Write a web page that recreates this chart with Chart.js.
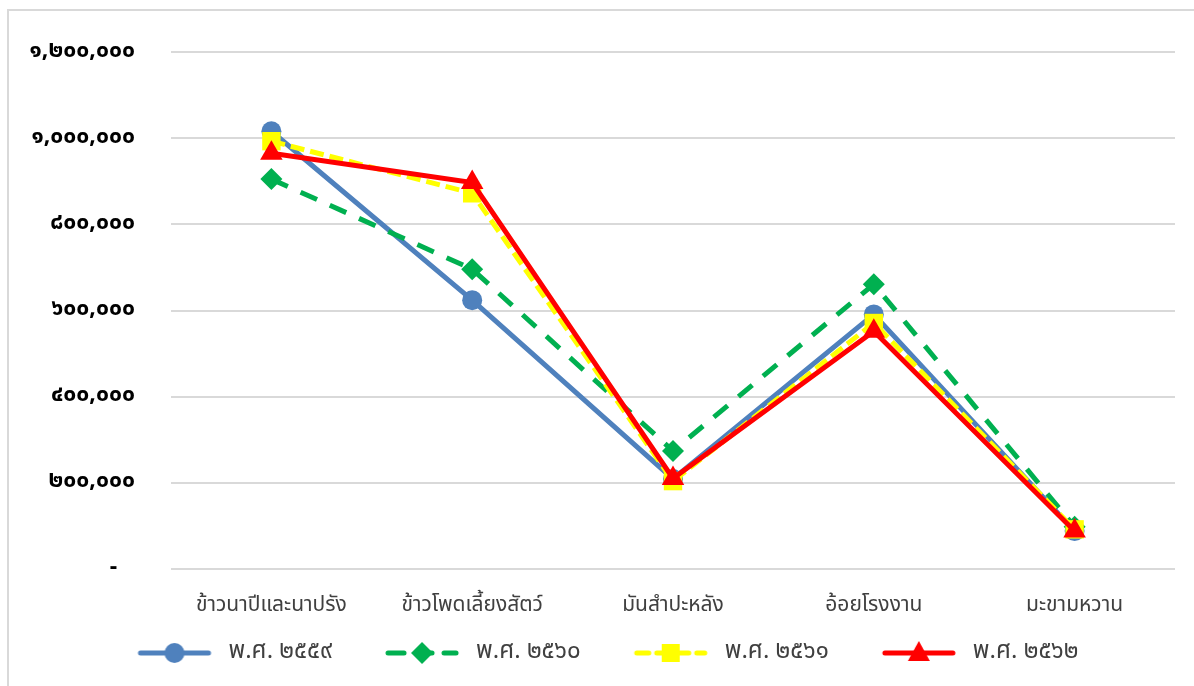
<!DOCTYPE html>
<html>
<head>
<meta charset="utf-8">
<script src="https://cdn.jsdelivr.net/npm/chart.js@4/dist/chart.umd.min.js"></script>
<style>
  html, body { margin: 0; padding: 0; background: #fff; }
  #wrap { position: relative; width: 1194px; height: 686px; overflow: hidden; }
  #frame { position: absolute; left: 7px; top: 9px; width: 1300px; height: 800px;
           border-left: 2px solid #d9d9d9; border-top: 2px solid #d9d9d9; }
  #myChart { position: absolute; left: 0; top: 0; }
</style>
</head>
<body>
<div id="wrap">
  <div id="frame"></div>
  <canvas id="myChart" width="1194" height="686"></canvas>
</div>
<script>
var categories = ['ข้าวนาปีและนาปรัง', 'ข้าวโพดเลี้ยงสัตว์', 'มันสำปะหลัง', 'อ้อยโรงงาน', 'มะขามหวาน'];
var seriesNames = ['พ.ศ. ๒๕๕๙', 'พ.ศ. ๒๕๖๐', 'พ.ศ. ๒๕๖๑', 'พ.ศ. ๒๕๖๒'];

var y2559 = [1016000, 624000, 209000, 591000, 88000];
var y2560 = [905000, 696000, 274000, 661000, 98000];
var y2561 = [993000, 872000, 204000, 571000, 92000];
var y2562 = [965000, 897000, 210000, 552000, 88000];

var yTicks = [0, 200000, 400000, 600000, 800000, 1000000, 1200000];

var thaiDigits = ['๐', '๑', '๒', '๓', '๔', '๕', '๖', '๗', '๘', '๙'];
function toThai(s) {
  return String(s).replace(/[0-9]/g, function (d) { return thaiDigits[d]; });
}

var thaiFont = "'Noto Sans Thai', Tahoma, 'Noto Sans', sans-serif";

// legend swatch: line with the marker in the middle, like Excel
function swatch(color, dash, marker) {
  var c = document.createElement('canvas');
  c.width = 120; c.height = 26;
  var g = c.getContext('2d');
  g.strokeStyle = color;
  g.fillStyle = color;
  g.lineWidth = 5;
  g.lineCap = 'round';
  if (dash) g.setLineDash(dash);
  g.beginPath();
  g.moveTo(44, 13); g.lineTo(112, 13);
  g.stroke();
  g.setLineDash([]);
  var cx = 78, cy = 13;
  g.beginPath();
  if (marker === 'circle') {
    g.arc(cx, cy, 10, 0, Math.PI * 2);
  } else if (marker === 'diamond') {
    g.moveTo(cx, cy - 11); g.lineTo(cx + 11, cy); g.lineTo(cx, cy + 11); g.lineTo(cx - 11, cy);
  } else if (marker === 'square') {
    g.rect(cx - 9, cy - 9, 18, 18);
  } else {
    g.moveTo(cx, cy - 12); g.lineTo(cx + 11, cy + 8); g.lineTo(cx - 11, cy + 8);
  }
  g.closePath();
  g.fill();
  return c;
}

var blue = 'rgb(79, 129, 189)';
var green = 'rgb(0, 176, 80)';
var yellow = 'rgb(255, 255, 0)';
var red = 'rgb(255, 0, 0)';

var legendIcons = [
  swatch(blue, null, 'circle'),
  swatch(green, [16, 12], 'diamond'),
  swatch(yellow, [12, 8], 'square'),
  swatch(red, null, 'triangle')
];

const data = {
  labels: categories,
  datasets: [{
    label: seriesNames[0],
    data: y2559,
    borderColor: blue,
    backgroundColor: blue,
    borderWidth: 5,
    pointStyle: 'circle',
    pointRadius: 10,
    pointBorderWidth: 0,
    order: 4
  }, {
    label: seriesNames[1],
    data: y2560,
    borderColor: green,
    backgroundColor: green,
    borderWidth: 5,
    borderDash: [18, 14],
    pointStyle: 'rectRot',
    pointRadius: 11,
    pointBorderWidth: 0,
    order: 3
  }, {
    label: seriesNames[2],
    data: y2561,
    borderColor: yellow,
    backgroundColor: yellow,
    borderWidth: 5,
    borderDash: [14, 6],
    pointStyle: 'rect',
    pointRadius: 13,
    pointBorderWidth: 0,
    order: 2
  }, {
    label: seriesNames[3],
    data: y2562,
    borderColor: red,
    backgroundColor: red,
    borderWidth: 5,
    pointStyle: 'triangle',
    pointRadius: 13,
    pointBorderWidth: 0,
    order: 1
  }]
};

const config = {
  type: 'line',
  data,
  options: {
    responsive: false,
    animation: false,
    layout: { padding: { top: 52, right: 19, bottom: 11, left: 0 } },
    plugins: {
      title: { display: false },
      tooltip: { enabled: false },
      legend: {
        position: 'bottom',
        labels: {
          usePointStyle: true,
          pointStyleWidth: 120,
          padding: 12,
          color: '#404040',
          font: { family: thaiFont, size: 24 },
          generateLabels: function (chart) {
            return chart.data.datasets.map(function (ds, i) {
              return {
                text: ds.label,
                pointStyle: legendIcons[i],
                fillStyle: ds.backgroundColor,
                strokeStyle: ds.borderColor,
                lineWidth: 0,
                hidden: false,
                datasetIndex: i,
                fontColor: '#404040'
              };
            });
          }
        }
      }
    },
    scales: {
      x: {
        offset: true,
        grid: { display: false },
        border: { display: false },
        afterFit: function (scale) { scale.height = 60; },
        ticks: {
          color: '#404040',
          padding: 17,
          font: { family: thaiFont, size: 21 }
        }
      },
      y: {
        min: 0,
        max: 1200000,
        afterBuildTicks: function (scale) {
          scale.ticks = yTicks.map(function (v) { return { value: v }; });
        },
        afterFit: function (scale) { scale.width = 171; },
        border: { display: false },
        grid: { color: '#d9d9d9', lineWidth: 2, drawTicks: false },
        ticks: {
          color: '#000',
          padding: 36,
          font: { family: thaiFont, size: 23, weight: 'bold' },
          callback: function (value) {
            if (value === 0) return '-   ';
            return toThai(value.toLocaleString('en-US'));
          }
        }
      }
    }
  }
};

var myChart = new Chart(
  document.getElementById('myChart'),
  config
);
</script>
</body>
</html>
